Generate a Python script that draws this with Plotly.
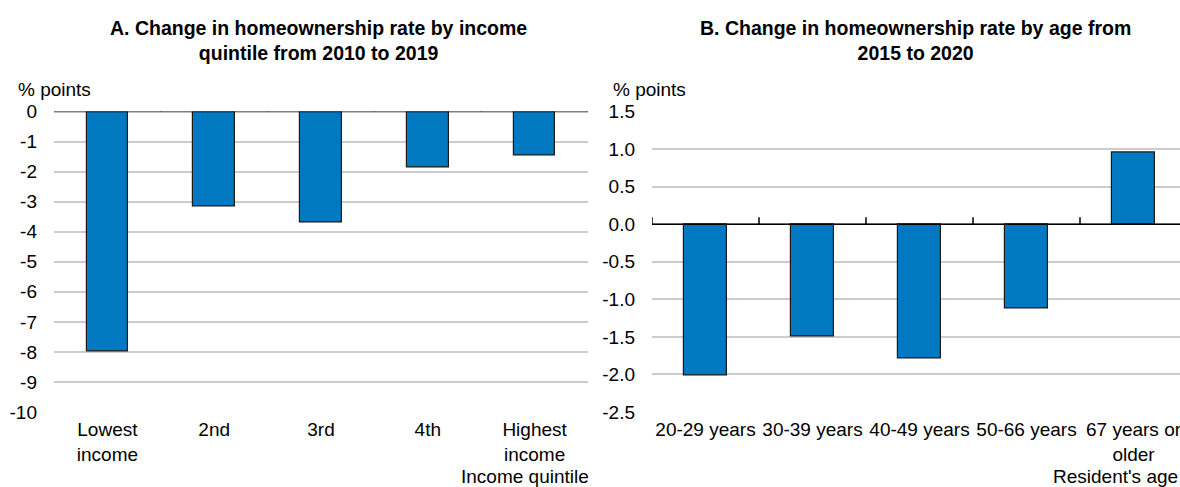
import plotly.graph_objects as go

# Data
income_cats = ["Lowest<br>income", "2nd", "3rd", "4th", "Highest<br>income"]
income_vals = [-7.97, -3.16, -3.68, -1.85, -1.46]
age_cats = ["20-29 years", "30-39 years", "40-49 years", "50-66 years", "67 years or<br>older"]
age_vals = [-2.02, -1.50, -1.79, -1.12, 0.96]
ticks_a = [0, -1, -2, -3, -4, -5, -6, -7, -8, -9, -10]
ticks_b = [1.5, 1.0, 0.5, 0.0, -0.5, -1.0, -1.5, -2.0, -2.5]

W, H = 1180, 487
BAR = "#0079c1"
FONT = "Liberation Sans, Arial, sans-serif"

fig = go.Figure()
fig.add_trace(go.Bar(x=list(range(5)), y=income_vals, width=0.39, marker=dict(color=BAR, line=dict(color="#1a1a1a", width=1.2)),
                     xaxis="x", yaxis="y", showlegend=False))
fig.add_trace(go.Bar(x=list(range(5)), y=age_vals, width=0.40, marker=dict(color=BAR, line=dict(color="#1a1a1a", width=1.2)),
                     xaxis="x2", yaxis="y2", showlegend=False))

def px(x):
    return x / W
def py(y):
    return 1 - y / H

# panel B plot area: ends at figure edge, category width ~107 px like the reference
b_left, b_right = 652, 1180
b_end = -0.5 + (b_right - b_left) / 107.0

ydom = [py(412), py(111.5)]
common = dict(automargin=False)
fig.update_layout(
    template="none",
    width=W, height=H, margin=dict(l=0, r=0, t=0, b=0),
    plot_bgcolor="white", paper_bgcolor="white",
    font=dict(family=FONT, size=19, color="black"),
    bargap=0,
    xaxis=dict(domain=[px(54), px(588)], range=[-0.5, 4.5], tickvals=list(range(5)), ticktext=income_cats,
               showgrid=False, zeroline=False, showline=False, ticks="", anchor="y", ticklabelstandoff=4,
               ticklabeloverflow="allow", **common),
    yaxis=dict(domain=ydom, range=[-10, 0], tickvals=ticks_a, ticktext=[str(t) for t in ticks_a],
               showgrid=True, gridcolor="#cccccc", gridwidth=2, zeroline=False, showline=False, ticks="",
               anchor="x", ticklabelstandoff=16, **common),
    xaxis2=dict(domain=[px(b_left), px(b_right)], range=[-0.5, b_end], tickvals=list(range(5)), ticktext=age_cats,
                showgrid=False, zeroline=False, showline=False, ticks="", anchor="y2", ticklabelstandoff=4,
                ticklabeloverflow="allow", **common),
    yaxis2=dict(domain=ydom, range=[-2.5, 1.5], tickvals=ticks_b, ticktext=[f"{t:.1f}" for t in ticks_b],
                showgrid=True, gridcolor="#cccccc", gridwidth=2, zeroline=False, showline=False, ticks="",
                anchor="x2", ticklabelstandoff=16, **common),
)

shapes = []
for xr, yr, tl, xend in [("x", "y", 0.23, 4.5), ("x2", "y2", 0.093, b_end)]:
    shapes.append(dict(type="line", xref=xr, yref=yr, x0=-0.5, x1=xend, y0=0, y1=0, line=dict(color="black", width=1.5)))
    for k in range(6):
        shapes.append(dict(type="line", xref=xr, yref=yr, x0=k - 0.5, x1=k - 0.5, y0=0, y1=tl, line=dict(color="black", width=1.5)))
fig.update_layout(shapes=shapes)

ann = [
    dict(text="<b>A. Change in homeownership rate by income<br>quintile from 2010 to 2019</b>", x=px(318), y=py(41),
         xanchor="center", yanchor="middle", font=dict(size=19.5)),
    dict(text="<b>B. Change in homeownership rate by age from<br>2015 to 2020</b>", x=px(915), y=py(41),
         xanchor="center", yanchor="middle", font=dict(size=19.5)),
    dict(text="% points", x=px(16), y=py(90), xanchor="left", yanchor="middle"),
    dict(text="% points", x=px(611), y=py(90), xanchor="left", yanchor="middle"),
    dict(text="Income quintile", x=px(591), y=py(476), xanchor="right", yanchor="middle"),
    dict(text="Resident's age", x=px(1180), y=py(476), xanchor="right", yanchor="middle"),
]
for a in ann:
    a.update(xref="paper", yref="paper", showarrow=False)
fig.update_layout(annotations=ann)

fig.write_html("out.html", config={"displayModeBar": False},
               post_script="document.body.style.margin='0';document.body.style.overflow='hidden';")
